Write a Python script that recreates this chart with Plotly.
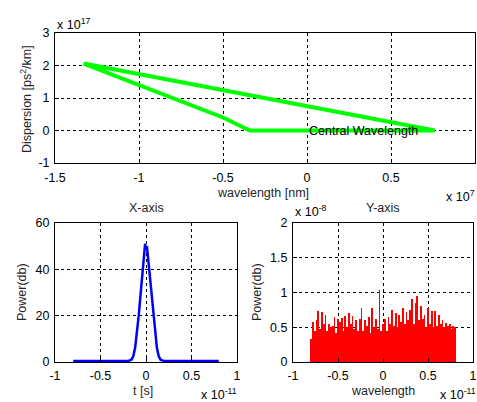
import plotly.graph_objects as go

W, H = 477, 402

# ---- data (scaled units) ----
# top: dispersion curve, x in 1e7 nm, y in 1e17 ps^2/km
disp_x = [-1.33, -1.0, -0.8, -0.5, -0.34, 0.76, -1.33]
disp_y = [2.06, 1.40, 1.00, 0.40, 0.0, 0.0, 2.06]

# bottom-left: X-axis pulse, t in 1e-11 s
pulse_t = [-0.80, -0.20, -0.16, -0.14, -0.12, -0.10, -0.08, -0.06, -0.04, -0.02, -0.01,
           0.00, 0.01, 0.02, 0.04, 0.06, 0.08, 0.10, 0.12, 0.14, 0.16, 0.20, 0.80]
pulse_p = [0.4, 0.4, 1.0, 2.5, 6, 12, 20, 29, 39, 47, 51,
           49, 50, 46, 38, 28, 20, 12, 6, 2.5, 1.0, 0.4, 0.4]

# bottom-right: Y-axis spectrum, x in 1e-11, y in 1e-8
spec_x = [-0.80, -0.78, -0.76, -0.74, -0.72, -0.70, -0.68, -0.66, -0.64, -0.62,
          -0.60, -0.58, -0.56, -0.54, -0.52, -0.50, -0.48, -0.46, -0.44, -0.42,
          -0.40, -0.38, -0.36, -0.34, -0.32, -0.30, -0.28, -0.26, -0.24, -0.22,
          -0.20, -0.18, -0.16, -0.14, -0.12, -0.10, -0.08, -0.06, -0.04, -0.02,
          0.00, 0.02, 0.04, 0.06, 0.08, 0.10, 0.12, 0.14, 0.16, 0.18,
          0.20, 0.22, 0.24, 0.26, 0.28, 0.30, 0.32, 0.34, 0.36, 0.38,
          0.40, 0.42, 0.44, 0.46, 0.48, 0.50, 0.52, 0.54, 0.56, 0.58,
          0.60, 0.62, 0.64, 0.66, 0.68, 0.70, 0.72, 0.74, 0.76, 0.78, 0.80]
spec_y = [0.33, 0.58, 0.45, 0.60, 0.73, 0.48, 0.72, 0.55, 0.68, 0.45,
          0.55, 0.50, 0.52, 0.65, 0.42, 0.62, 0.58, 0.64, 0.45, 0.66,
          0.50, 0.70, 0.55, 0.66, 0.48, 0.60, 0.45, 0.62, 0.78, 0.45,
          0.60, 0.52, 0.65, 0.42, 0.78, 0.50, 0.62, 0.48, 1.03, 0.45,
          0.55, 0.62, 0.45, 0.65, 0.55, 0.75, 0.52, 0.70, 0.50, 0.68,
          0.58, 0.78, 0.55, 0.72, 0.60, 0.75, 0.90, 0.55, 0.85, 0.95,
          0.60, 0.80, 0.62, 0.68, 0.50, 0.78, 0.55, 0.74, 0.50, 0.73,
          0.52, 0.68, 0.55, 0.60, 0.50, 0.56, 0.52, 0.55, 0.48, 0.52, 0.50]

top_xticks = [-1.5, -1, -0.5, 0, 0.5, 1]
top_xlabels = ["-1.5", "-1", "-0.5", "0", "0.5", "1"]
top_yticks = [-1, 0, 1, 2, 3]
top_ylabels = ["-1", "0", "1", "2", "3"]
bot_xticks = [-1, -0.5, 0, 0.5, 1]
bot_xlabels = ["-1", "-0.5", "0", "0.5", "1"]
bl_yticks = [0, 20, 40, 60]
bl_ylabels = ["0", "20", "40", "60"]
br_yticks = [0, 0.5, 1, 1.5, 2]
br_ylabels = ["0", "0.5", "1", "1.5", "2"]

FONT = "Liberation Sans, Arial, sans-serif"
TXT = "#262626"
FS = 12.5

fig = go.Figure()
fig.add_trace(go.Scatter(x=disp_x, y=disp_y, mode="lines",
                         line=dict(color="#00ff00", width=4), xaxis="x", yaxis="y"))
fig.add_trace(go.Scatter(x=pulse_t, y=pulse_p, mode="lines",
                         line=dict(color="#0000ff", width=2.5), xaxis="x2", yaxis="y2"))
fig.add_trace(go.Bar(x=spec_x, y=spec_y, marker=dict(color="#ff0000", line=dict(width=0)),
                     width=0.02, xaxis="x3", yaxis="y3"))


def px(xp):
    return xp / W


def py(yp):
    return 1 - yp / H


def axis(domain, rng, tv, tt, anchor, standoff):
    return dict(domain=domain, range=rng, tickvals=tv, ticktext=tt, anchor=anchor,
                showline=True, linecolor="black", linewidth=1, mirror=True,
                ticks="inside", ticklen=4, tickcolor="black",
                showgrid=True, gridcolor="black", gridwidth=1, griddash="3px,3px",
                zeroline=False, automargin=False, ticklabelstandoff=standoff,
                tickfont=dict(family=FONT, size=FS, color="black"),
                fixedrange=True)


layout = dict(
    template="none",
    width=W, height=H, margin=dict(l=0, r=0, t=0, b=0, autoexpand=False),
    paper_bgcolor="white", plot_bgcolor="white", showlegend=False,
    bargap=0,
    xaxis=axis([px(55), px(475)], [-1.5, 1], top_xticks, top_xlabels, "y", 3),
    yaxis=axis([py(163), py(33)], [-1, 3], top_yticks, top_ylabels, "x", 2),
    xaxis2=axis([px(55), px(237)], [-1, 1], bot_xticks, bot_xlabels, "y2", 2),
    yaxis2=axis([py(362), py(223)], [0, 60], bl_yticks, bl_ylabels, "x2", 2),
    xaxis3=axis([px(293), px(473)], [-1, 1], bot_xticks, bot_xlabels, "y3", 2),
    yaxis3=axis([py(362), py(223)], [0, 2], br_yticks, br_ylabels, "x3", 2),
)
fig.update_layout(**layout)


def ann(text, x, y, xanchor="center", yanchor="middle", angle=0, size=FS, color=TXT):
    fig.add_annotation(text=text, x=px(x), y=py(y), xref="paper", yref="paper",
                       xanchor=xanchor, yanchor=yanchor, textangle=angle, showarrow=False,
                       font=dict(family=FONT, size=size, color=color))


# axis titles
ann("Dispersion [ps<sup>2</sup>/km]", 26, 99, angle=-90)
ann("wavelength [nm]", 263, 193)
ann("Power(db)", 22, 292, angle=-90)
ann("t [s]", 143, 391)
ann("Power(db)", 257, 292, angle=-90)
ann("wavelength", 383, 391)
ann("X-axis", 146, 208)
ann("Y-axis", 383, 208)

# exponent labels
ann("x 10<sup>17</sup>", 55, 24, xanchor="left", color="black")
ann("x 10<sup>7</sup>", 444, 196, xanchor="left", color="black")
ann("x 10<sup>-11</sup>", 199, 394, xanchor="left", color="black")
ann("x 10<sup>-11</sup>", 438, 394, xanchor="left", color="black")
ann("x 10<sup>-8</sup>", 293, 211, xanchor="left", color="black")

# data label
fig.add_annotation(text="Central Wavelength", x=0, y=0, xref="x", yref="y",
                   xanchor="left", yanchor="middle", showarrow=False,
                   font=dict(family=FONT, size=FS, color="black"))

fig.write_html(
    "out.html",
    config={"displayModeBar": False, "staticPlot": True},
    post_script="document.body.style.margin='0px';document.body.style.overflow='hidden';",
)
